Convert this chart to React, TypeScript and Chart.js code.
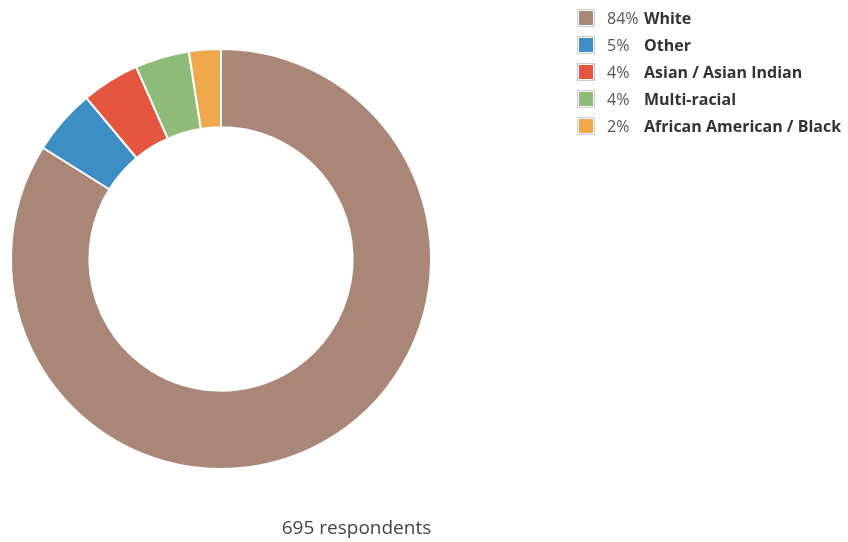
import React, { useEffect, useRef } from "react";
import { Chart, registerables } from "chart.js";

Chart.register(...registerables);

const categories = ["White", "Other", "Asian / Asian Indian", "Multi-racial", "African American / Black"];
const counts = [583, 35, 31, 29, 17];
const percentLabels = ["84%", "5%", "4%", "4%", "2%"];
const colors = ["#aa8677", "#3d8ec5", "#e55640", "#8fbb79", "#efa84c"];
const footerText = "695 respondents";

export default function App() {
  const ref = useRef<HTMLCanvasElement | null>(null);

  useEffect(() => {
    if (!ref.current) return;
    const chart = new Chart(ref.current, {
      type: "doughnut",
      data: {
        labels: categories,
        datasets: [
          {
            data: counts,
            backgroundColor: colors,
            borderColor: "#ffffff",
            borderWidth: 2,
          },
        ],
      },
      options: {
        responsive: false,
        animation: false,
        radius: 210,
        cutout: 131,
        layout: { padding: { left: 11, top: 49, right: 417, bottom: 73 } },
        plugins: {
          legend: { display: false },
          tooltip: { enabled: false },
          title: { display: false },
        },
      },
    });
    return () => chart.destroy();
  }, []);

  return (
    <div style={{ position: "absolute", left: 0, top: 0, width: 848, height: 542, fontFamily: "'Open Sans', sans-serif", background: "#fff" }}>
      <canvas ref={ref} width={848} height={542} style={{ position: "absolute", left: 0, top: 0 }} />
      <div style={{ position: "absolute", left: 577, top: 4 }}>
        {categories.map((c, i) => (
          <div key={c} style={{ display: "flex", alignItems: "center", height: 27, whiteSpace: "nowrap" }}>
            <div
              style={{
                width: 14,
                height: 14,
                border: "1px solid #cccccc",
                padding: 1,
                background: "#fff",
                boxSizing: "content-box",
              }}
            >
              <div style={{ width: 14, height: 14, background: colors[i] }} />
            </div>
            <span style={{ marginLeft: 12, width: 37, fontSize: 16, color: "#555" }}>{percentLabels[i]}</span>
            <span style={{ fontSize: 16, fontWeight: 700, color: "#333" }}>{c}</span>
          </div>
        ))}
      </div>
      <div
        style={{
          position: "absolute",
          left: 0,
          width: 713,
          top: 514,
          textAlign: "center",
          fontSize: 19,
          color: "#444",
        }}
      >
        {footerText}
      </div>
    </div>
  );
}
